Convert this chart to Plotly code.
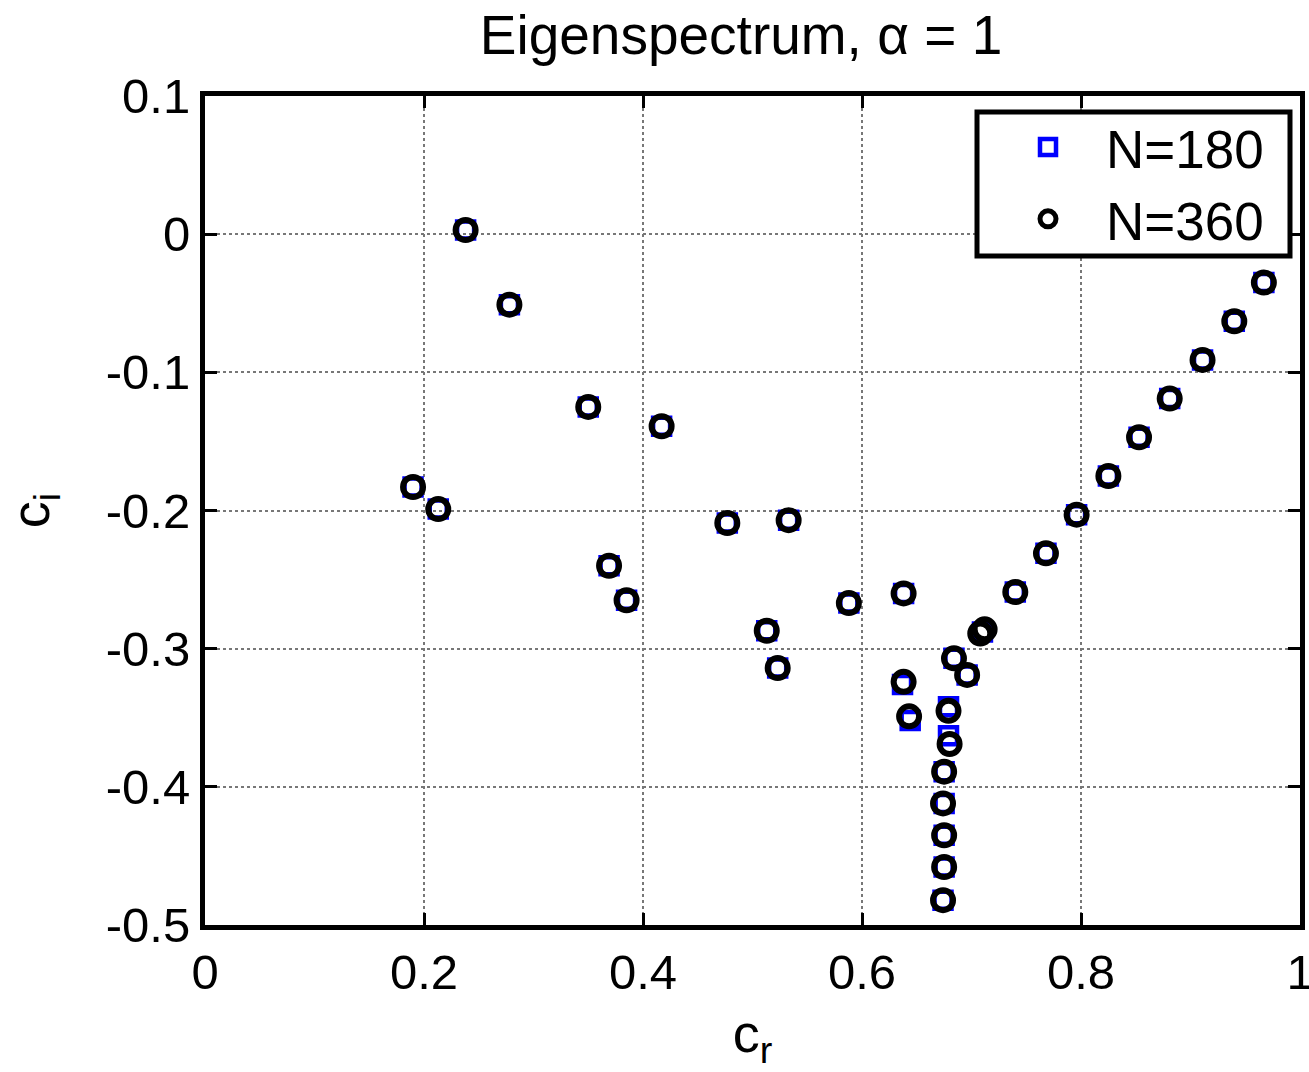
import plotly.graph_objects as go

# N=360 eigenvalues (black circles)
cr_360 = [0.238, 0.278, 0.350, 0.417, 0.190, 0.213, 0.369, 0.385, 0.477, 0.533,
          0.513, 0.523, 0.588, 0.638, 0.638, 0.643, 0.684, 0.696, 0.708, 0.712,
          0.679, 0.680, 0.675, 0.674, 0.675, 0.675, 0.674,
          0.740, 0.768, 0.796, 0.825, 0.853, 0.881, 0.911, 0.940, 0.967]
ci_360 = [0.003, -0.051, -0.125, -0.139, -0.183, -0.199, -0.240, -0.265, -0.209, -0.207,
          -0.287, -0.314, -0.267, -0.260, -0.324, -0.349, -0.307, -0.319, -0.289, -0.286,
          -0.345, -0.369, -0.389, -0.412, -0.435, -0.458, -0.482,
          -0.259, -0.231, -0.203, -0.175, -0.147, -0.119, -0.091, -0.063, -0.035]

# N=180 eigenvalues (blue squares)
cr_180 = [0.238, 0.278, 0.350, 0.417, 0.190, 0.213, 0.369, 0.385, 0.477, 0.533,
          0.513, 0.523, 0.588, 0.638, 0.637, 0.644, 0.684, 0.696, 0.710,
          0.679, 0.679, 0.675, 0.675, 0.675, 0.675, 0.674,
          0.740, 0.768, 0.796, 0.825, 0.853, 0.881, 0.911, 0.940, 0.967]
ci_180 = [0.003, -0.051, -0.125, -0.139, -0.183, -0.199, -0.240, -0.265, -0.209, -0.207,
          -0.287, -0.314, -0.267, -0.260, -0.326, -0.352, -0.307, -0.319, -0.288,
          -0.342, -0.363, -0.389, -0.412, -0.435, -0.458, -0.482,
          -0.259, -0.231, -0.203, -0.175, -0.147, -0.119, -0.091, -0.063, -0.035]

x_ticks = [0, 0.2, 0.4, 0.6, 0.8, 1]
x_tick_labels = ["0", "0.2", "0.4", "0.6", "0.8", "1"]
y_ticks = [0.1, 0, -0.1, -0.2, -0.3, -0.4, -0.5]
y_tick_labels = ["0.1", "0", "-0.1", "-0.2", "-0.3", "-0.4", "-0.5"]

FONT = "Liberation Sans, Arial, sans-serif"

fig = go.Figure()
fig.add_trace(go.Scatter(
    x=cr_180, y=ci_180, mode="markers", name="N=180",
    marker=dict(symbol="square-open", size=17, color="#0000ff",
                line=dict(width=4.5, color="#0000ff")),
))
fig.add_trace(go.Scatter(
    x=cr_360, y=ci_360, mode="markers", name="N=360",
    marker=dict(symbol="circle-open", size=20, color="black",
                line=dict(width=6, color="black")),
))

axis_common = dict(
    showline=True, linewidth=5, linecolor="black", mirror="ticks",
    ticks="inside", ticklen=12, tickwidth=3, tickcolor="black",
    showgrid=True, gridcolor="#777777", gridwidth=1.5, griddash="dot",
    zeroline=False, automargin=False, ticklabeloverflow="allow",
    tickfont=dict(family=FONT, size=49, color="black"),
)

fig.update_layout(
    width=1309, height=1072, autosize=False,
    margin=dict(l=205, r=9, t=96, b=147),
    paper_bgcolor="white", plot_bgcolor="white",
    title=dict(text="Eigenspectrum, α = 1", x=741 / 1309, xanchor="center",
               xref="container", yref="container", y=0.968, yanchor="middle",
               font=dict(family=FONT, size=55, color="black")),
    xaxis=dict(range=[0, 1], tickvals=x_ticks, ticktext=x_tick_labels,
               title=dict(text="c<sub>r</sub>", font=dict(family=FONT, size=54, color="black"),
                          standoff=18),
               **axis_common),
    yaxis=dict(range=[-0.5, 0.1], tickvals=y_ticks, ticktext=y_tick_labels,
               title=dict(text="c<sub>i</sub>", font=dict(family=FONT, size=54, color="black"),
                          standoff=42),
               **axis_common),
    legend=dict(x=(990 - 205) / 1095, y=(925 - 106) / 829, xanchor="left", yanchor="top",
                bgcolor="rgba(0,0,0,0)", borderwidth=0, itemwidth=106,
                font=dict(family=FONT, size=53, color="black")),
    showlegend=True,
    shapes=[dict(type="rect", xref="paper", yref="paper",
                 x0=(977 - 205) / 1095, x1=(1290 - 205) / 1095,
                 y0=(925 - 256) / 829, y1=(925 - 112) / 829,
                 line=dict(color="black", width=5), fillcolor="white", layer="above")],
)

fig.write_html("out.html")
